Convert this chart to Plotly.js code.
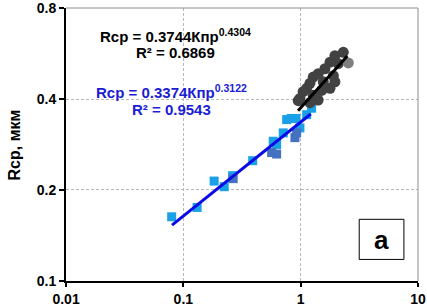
<!DOCTYPE html>
<html>
<head>
<meta charset="utf-8">
<script src="https://cdn.plot.ly/plotly-3.0.1.min.js"></script>
<style>html,body{margin:0;padding:0;background:#fff;}#chart{width:427px;height:307px;}</style>
</head>
<body>
<div id="chart"></div>
<script>
// Light blue squares
const blueX = [0.0795, 0.131, 0.183, 0.223, 0.263, 0.39, 0.584, 0.624, 0.711, 0.76, 0.912, 0.986, 1.125, 1.24, 0.83];
const blueY = [0.163, 0.175, 0.214, 0.205, 0.223, 0.250, 0.290, 0.283, 0.309, 0.342, 0.345, 0.321, 0.355, 0.373, 0.345];
// Darker blue squares
const darkX = [0.266, 0.566, 0.624, 0.894, 0.924];
const darkY = [0.218, 0.266, 0.263, 0.298, 0.309];
// Gray circles
const grayX = [2.31, 1.96, 1.78, 2.09, 1.61, 1.41, 1.28, 1.90, 1.96, 1.56, 1.2, 1.125, 1.51, 1.78, 1.05, 1.28, 0.986, 0.954, 1.41, 1.2];
const grayY = [0.571, 0.557, 0.530, 0.524, 0.504, 0.485, 0.473, 0.478, 0.456, 0.456, 0.451, 0.434, 0.427, 0.434, 0.423, 0.412, 0.402, 0.395, 0.397, 0.389];
const lightGrayX = [2.55];
const lightGrayY = [0.527];
// Trend lines (end points)
const blueFitX = [0.08, 1.22];
const blueFitY = [0.153, 0.357];
const blackFitX = [0.95, 2.5];
const blackFitY = [0.366, 0.555];
// Ticks
const xTicks = [0.01, 0.1, 1, 10];
const xTickText = ['0.01', '0.1', '1', '10'];
const yTicks = [0.1, 0.2, 0.4, 0.8];
const yTickText = ['0.1', '0.2', '0.4', '0.8'];

const traces = [
  {x: blueX, y: blueY, mode: 'markers', type: 'scatter', marker: {symbol: 'square', size: 9, color: '#1AA0E6'}},
  {x: darkX, y: darkY, mode: 'markers', type: 'scatter', marker: {symbol: 'square', size: 9, color: '#4472C0'}},
  {x: grayX, y: grayY, mode: 'markers', type: 'scatter', marker: {symbol: 'circle', size: 11, color: '#424242'}},
  {x: lightGrayX, y: lightGrayY, mode: 'markers', type: 'scatter', marker: {symbol: 'circle', size: 11, color: '#7f7f7f'}},
  {x: blueFitX, y: blueFitY, mode: 'lines', type: 'scatter', line: {color: '#0A0AE6', width: 3}},
  {x: blackFitX, y: blackFitY, mode: 'lines', type: 'scatter', line: {color: '#000000', width: 3}}
];

const F = 'Liberation Sans, Arial, sans-serif';
const layout = {
  width: 427, height: 307,
  margin: {l: 66, r: 9, t: 8, b: 26},
  paper_bgcolor: '#fff', plot_bgcolor: '#fff',
  showlegend: false,
  font: {family: F, color: '#000'},
  xaxis: {
    type: 'log', range: [-2.0005, 1.0005], tickvals: xTicks, ticktext: xTickText,
    ticks: 'outside', ticklen: 4, tickwidth: 2, tickcolor: '#000',
    showline: true, linecolor: '#000', linewidth: 2,
    showgrid: true, gridcolor: '#b8b8b8', gridwidth: 1, griddash: '3px,2px',
    tickfont: {family: F, size: 14, color: '#000', weight: 'bold'},
    ticklabeloverflow: 'allow',
    zeroline: false, fixedrange: true
  },
  yaxis: {
    type: 'log', range: [-1.0005, Math.log10(0.8) + 0.0005], tickvals: yTicks, ticktext: yTickText,
    ticks: 'outside', ticklen: 5, tickwidth: 2, tickcolor: '#000',
    showline: true, linecolor: '#000', linewidth: 2,
    showgrid: true, gridcolor: '#b8b8b8', gridwidth: 1, griddash: '3px,2px',
    tickfont: {family: F, size: 14, color: '#000', weight: 'bold'},
    ticklabeloverflow: 'allow',
    zeroline: false, fixedrange: true
  },
  shapes: [
    {type: 'line', xref: 'paper', yref: 'paper', x0: 0, x1: 1, y0: 1, y1: 1, line: {color: '#8c8c8c', width: 1}},
    {type: 'line', xref: 'paper', yref: 'paper', x0: 1, x1: 1, y0: 0, y1: 1, line: {color: '#8c8c8c', width: 1}},
    {type: 'rect', xref: 'paper', yref: 'paper', x0: 0.833, x1: 0.960, y0: 0.079, y1: 0.226, line: {color: '#000', width: 1}, fillcolor: '#fff'}
  ],
  annotations: [
    {xref: 'paper', yref: 'paper', x: 0.31, y: 0.899, showarrow: false, xanchor: 'center', yanchor: 'middle',
     text: '<b>Rcp = 0.3744Кпр<sup>0.4304</sup></b>', font: {family: F, size: 15, color: '#000'}},
    {xref: 'paper', yref: 'paper', x: 0.31, y: 0.838, showarrow: false, xanchor: 'center', yanchor: 'middle',
     text: '<b>R² = 0.6869</b>', font: {family: F, size: 15, color: '#000'}},
    {xref: 'paper', yref: 'paper', x: 0.301, y: 0.693, showarrow: false, xanchor: 'center', yanchor: 'middle',
     text: '<b>Rcp = 0.3374Кпр<sup>0.3122</sup></b>', font: {family: F, size: 15, color: '#1c1cd6'}},
    {xref: 'paper', yref: 'paper', x: 0.301, y: 0.628, showarrow: false, xanchor: 'center', yanchor: 'middle',
     text: '<b>R² = 0.9543</b>', font: {family: F, size: 15, color: '#1c1cd6'}},
    {xref: 'paper', yref: 'paper', x: 0.897, y: 0.150, showarrow: false, xanchor: 'center', yanchor: 'middle',
     text: '<b>a</b>', font: {family: F, size: 26, color: '#000'}},
    {xref: 'paper', yref: 'paper', x: -0.145, y: 0.5, showarrow: false, xanchor: 'center', yanchor: 'middle', textangle: -90,
     text: '<b>Rcp, мкм</b>', font: {family: F, size: 16, color: '#000'}}
  ]
};

Plotly.newPlot('chart', traces, layout, {staticPlot: true, displayModeBar: false});
</script>
</body>
</html>
